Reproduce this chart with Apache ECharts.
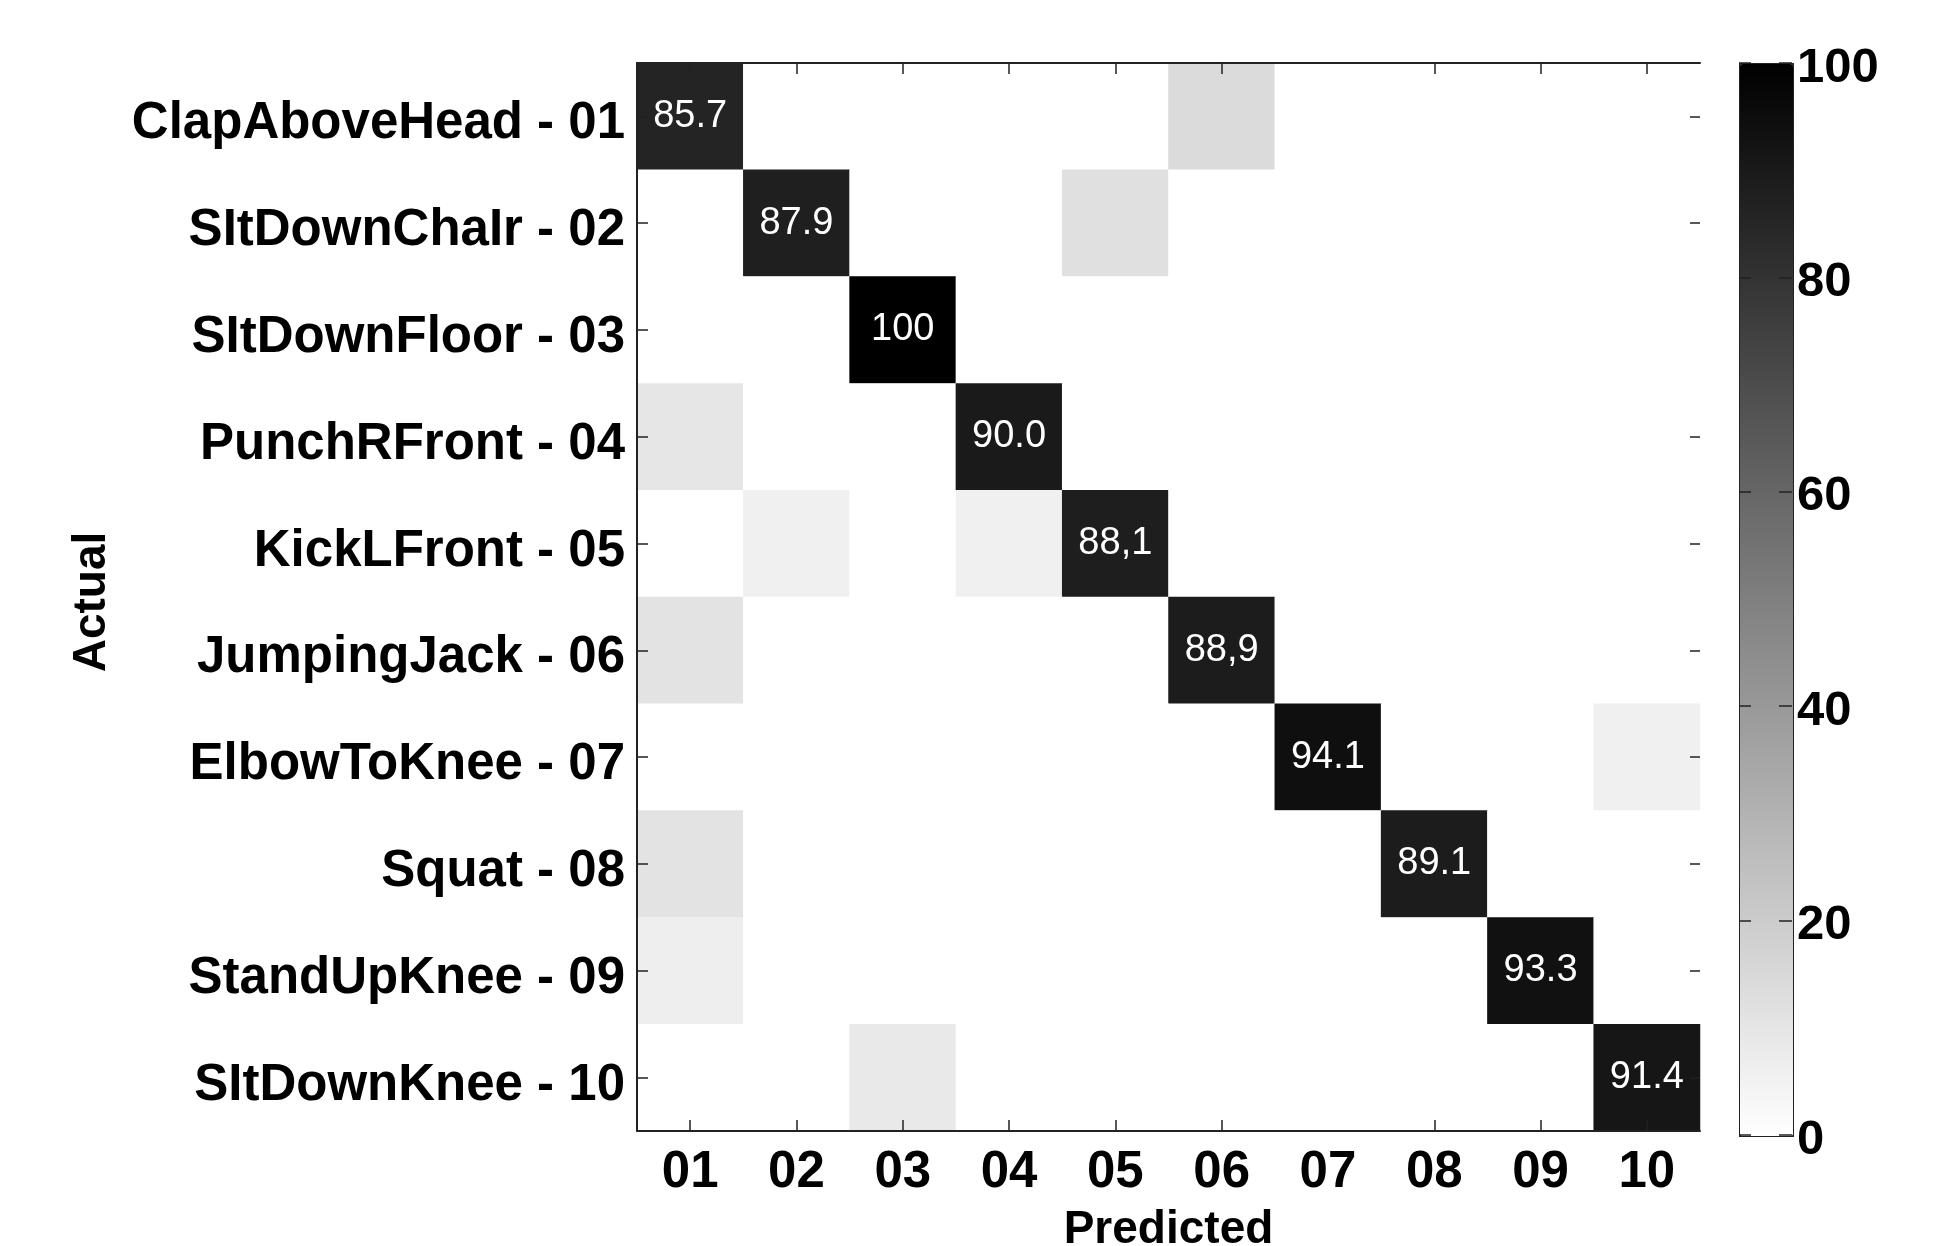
<!DOCTYPE html>
<html>
<head>
<meta charset="utf-8">
<title>Confusion matrix</title>
<script src="https://cdn.jsdelivr.net/npm/echarts@6/dist/echarts.min.js"></script>
<style>
  html, body { margin: 0; padding: 0; background: #ffffff; }
  #chart { width: 1941px; height: 1246px; }
</style>
</head>
<body>
<div id="chart"></div>
<script>
// Class codes (predicted axis) and action names (actual axis)
const codes = ['01', '02', '03', '04', '05', '06', '07', '08', '09', '10'];
const actions = [
  'ClapAboveHead', 'SItDownChaIr', 'SItDownFloor', 'PunchRFront', 'KickLFront',
  'JumpingJack', 'ElbowToKnee', 'Squat', 'StandUpKnee', 'SItDownKnee'
];

// Row-normalised confusion matrix in percent, one array per actual class
const row01 = [85.7, 0, 0, 0, 0, 14.3, 0, 0, 0, 0];
const row02 = [0, 87.9, 0, 0, 12.1, 0, 0, 0, 0, 0];
const row03 = [0, 0, 100, 0, 0, 0, 0, 0, 0, 0];
const row04 = [10.0, 0, 0, 90.0, 0, 0, 0, 0, 0, 0];
const row05 = [0, 6.0, 0, 5.9, 88.1, 0, 0, 0, 0, 0];
const row06 = [11.1, 0, 0, 0, 0, 88.9, 0, 0, 0, 0];
const row07 = [0, 0, 0, 0, 0, 0, 94.1, 0, 0, 5.9];
const row08 = [10.9, 0, 0, 0, 0, 0, 0, 89.1, 0, 0];
const row09 = [6.7, 0, 0, 0, 0, 0, 0, 0, 93.3, 0];
const row10 = [0, 0, 8.6, 0, 0, 0, 0, 0, 0, 91.4];
const matrix = [row01, row02, row03, row04, row05, row06, row07, row08, row09, row10];

// Rows whose diagonal value is written with a decimal comma
const commaRows = [4, 5];

// Colour bar ticks
const colorbarTicks = [0, 20, 40, 60, 80, 100];

const yLabels = actions.map((a, i) => a + ' - ' + codes[i]);

const cells = [];
matrix.forEach((row, r) => {
  row.forEach((v, c) => {
    cells.push({ value: [c, r, v], label: { show: r === c } });
  });
});

const FONT = "'Liberation Sans', Arial, Helvetica, sans-serif";
const AXIS_COLOR = '#222222';

const tickStyle = { color: AXIS_COLOR, width: 1.5 };

const chart = echarts.init(document.getElementById('chart'), null, { renderer: 'canvas' });

const option = {
  backgroundColor: '#ffffff',
  animation: false,
  grid: [
    { left: 637, top: 63, width: 1063, height: 1068, containLabel: false, outerBoundsMode: 'none' },
    { left: 1739, top: 63, width: 53, height: 1072, containLabel: false, outerBoundsMode: 'none' }
  ],
  xAxis: [
    {
      gridIndex: 0, type: 'category', data: codes, position: 'bottom', z: 5,
      axisLine: { show: true, onZero: false, lineStyle: { color: AXIS_COLOR, width: 2 } },
      axisTick: {
        show: true, inside: true, length: 11, alignWithLabel: true,
        interval: (i) => i !== 6,
        lineStyle: tickStyle
      },
      axisLabel: {
        color: '#000', fontFamily: FONT, fontWeight: 'bold', fontSize: 51, margin: 10,
        padding: [6, 0, 0, 0]
      },
      splitLine: { show: false },
      name: 'Predicted', nameLocation: 'middle', nameGap: 76,
      nameTextStyle: { color: '#000', fontFamily: FONT, fontWeight: 'bold', fontSize: 46 }
    },
    {
      gridIndex: 0, type: 'category', data: codes, position: 'top', z: 5,
      axisLine: { show: true, onZero: false, lineStyle: { color: AXIS_COLOR, width: 2 } },
      axisTick: {
        show: true, inside: true, length: 11, alignWithLabel: true,
        interval: (i) => i !== 6,
        lineStyle: tickStyle
      },
      axisLabel: { show: false },
      splitLine: { show: false }
    },
    {
      gridIndex: 1, type: 'category', data: ['bar'], show: false,
      axisLine: { onZero: false }
    }
  ],
  yAxis: [
    {
      gridIndex: 0, type: 'category', data: yLabels, inverse: true, position: 'left', z: 5,
      axisLine: { show: true, onZero: false, lineStyle: { color: AXIS_COLOR, width: 2 } },
      axisTick: {
        show: true, inside: true, length: 11, alignWithLabel: true,
        lineStyle: tickStyle
      },
      axisLabel: {
        color: '#000', fontFamily: FONT, fontWeight: 'bold', fontSize: 51, margin: 12,
        verticalAlign: 'top', lineHeight: 16
      },
      splitLine: { show: false },
      name: 'Actual', nameLocation: 'middle', nameGap: 522, nameRotate: 90,
      nameTextStyle: {
        color: '#000', fontFamily: FONT, fontWeight: 'bold', fontSize: 46,
        padding: [0, 10, 0, 0]
      }
    },
    {
      gridIndex: 0, type: 'category', data: yLabels, inverse: true, position: 'right', z: 5,
      axisLine: { show: false, onZero: false },
      axisTick: {
        show: true, inside: true, length: 10, alignWithLabel: true,
        interval: (i) => i !== 2,
        lineStyle: tickStyle
      },
      axisLabel: { show: false },
      splitLine: { show: false }
    },
    {
      gridIndex: 1, type: 'value', min: 0, max: 100, interval: 20, position: 'right', z: 10,
      axisLine: { show: false, onZero: false },
      axisTick: { show: true, inside: true, length: 13, lineStyle: tickStyle },
      axisLabel: {
        color: '#000', fontFamily: FONT, fontWeight: 'bold', fontSize: 49, margin: 5,
        verticalAlign: 'top', lineHeight: 10,
        customValues: colorbarTicks
      },
      splitLine: { show: false }
    },
    {
      gridIndex: 1, type: 'value', min: 0, max: 100, interval: 20, position: 'left', z: 10,
      axisLine: { show: false, onZero: false },
      axisTick: { show: true, inside: true, length: 12, lineStyle: tickStyle },
      axisLabel: { show: false },
      splitLine: { show: false }
    }
  ],
  visualMap: {
    type: 'continuous',
    seriesIndex: 0,
    dimension: 2,
    min: 0,
    max: 100,
    calculable: false,
    realtime: false,
    orient: 'vertical',
    left: 1739,
    top: 63,
    itemWidth: 53,
    itemHeight: 1072,
    padding: 0,
    text: null,
    showLabel: false,
    borderColor: '#222',
    borderWidth: 2,
    z: 4,
    inRange: { color: ['#ffffff', '#000000'] }
  },
  series: [
    {
      type: 'heatmap',
      xAxisIndex: 0,
      yAxisIndex: 0,
      data: cells,
      itemStyle: { borderWidth: 0 },
      label: {
        color: '#ffffff',
        fontFamily: FONT,
        fontSize: 38,
        formatter: (p) => {
          const v = p.value[2];
          if (v === 100) return '100';
          const s = v.toFixed(1);
          return commaRows.includes(p.value[1]) ? s.replace('.', ',') : s;
        }
      },
      emphasis: { disabled: true }
    }
  ]
};

chart.setOption(option);
</script>
</body>
</html>
